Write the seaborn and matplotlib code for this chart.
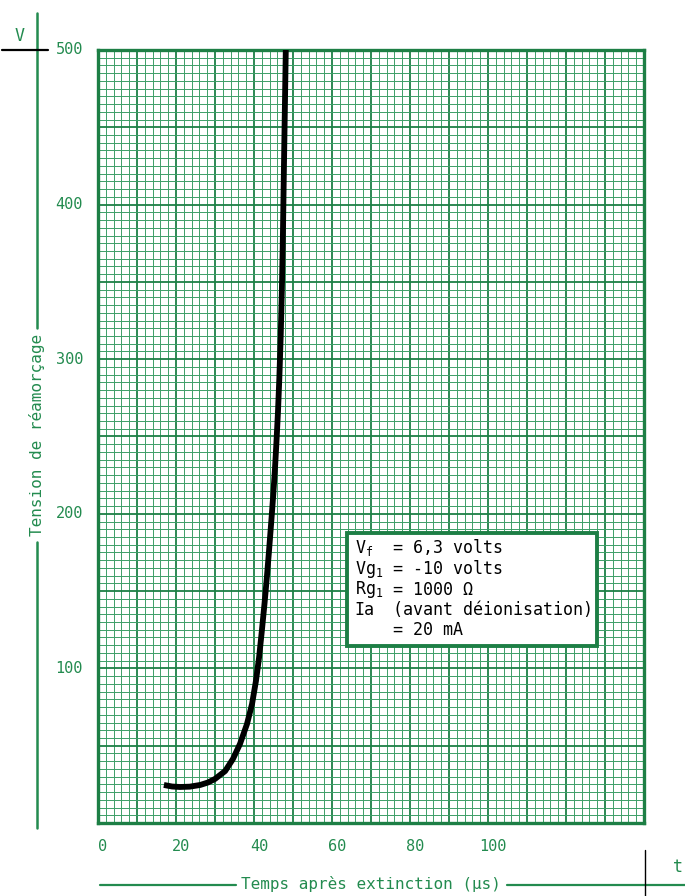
import matplotlib
matplotlib.use("Agg")
import matplotlib.pyplot as plt
import matplotlib.transforms as mtransforms
from matplotlib.lines import Line2D
from matplotlib.patches import Rectangle
from matplotlib.ticker import MultipleLocator
import pandas as pd
import seaborn as sns

GREEN = "#238b4f"
GRID_MAJOR = "#1d7f45"
GRID_MINOR = "#3d9e68"

# data (time in us, voltage in V)
time_us = [16.9, 19.0, 21.0, 23.5, 26.2, 28.2, 30.0, 32.6, 34.6, 36.4, 38.2,
           39.5, 40.5, 41.3, 42.0, 42.7, 43.3, 43.85, 44.4, 44.9, 45.35, 45.75,
           46.15, 46.5, 46.85, 47.15, 47.4, 47.65, 47.9, 48.15]
tension_v = [24.6, 23.6, 23.3, 23.5, 24.6, 26.2, 28.5, 33.6, 41.4, 51.1, 64.0,
             77.0, 91.9, 107.0, 124.0, 142.0, 159.0, 176.0, 194.0, 211.0, 228.0,
             246.0, 266.0, 288.0, 315.0, 345.0, 378.0, 420.0, 460.0, 500.0]

x_ticks = [0, 20, 40, 60, 80, 100]
y_ticks = [100, 200, 300, 400, 500]

box_labels = ["V$_f$", "Vg$_1$", "Rg$_1$", "Ia", ""]
box_values = ["= 6,3 volts", "= -10 volts", "= 1000 \u03a9",
              "(avant d\u00e9ionisation)", "= 20 mA"]

sns.set_style("white")
plt.rcParams["font.family"] = ["DejaVu Sans Mono", "DejaVu Sans"]
plt.rcParams["mathtext.fontset"] = "custom"
plt.rcParams["mathtext.rm"] = "DejaVu Sans Mono"
plt.rcParams["mathtext.it"] = "DejaVu Sans Mono"

W, H = 685, 896
fig = plt.figure(figsize=(W / 100, H / 100), dpi=100)
ax_left, ax_right, ax_top, ax_bottom = 98, 644, 50, 823
ax = fig.add_axes([ax_left / W, 1 - ax_bottom / H,
                   (ax_right - ax_left) / W, (ax_bottom - ax_top) / H])

df = pd.DataFrame({"t": time_us, "v": tension_v})
sns.lineplot(data=df, x="t", y="v", sort=False, estimator=None,
             color="black", linewidth=4.2, ax=ax, zorder=5)
ax.lines[-1].set_solid_capstyle("butt")
ax.lines[-1].set_solid_joinstyle("round")

ax.set_xlim(0, 140)
ax.set_ylim(0, 500)

# graph paper grid
ax.xaxis.set_major_locator(MultipleLocator(10))
ax.xaxis.set_minor_locator(MultipleLocator(2))
ax.yaxis.set_major_locator(MultipleLocator(50))
ax.yaxis.set_minor_locator(MultipleLocator(5))
ax.grid(which="minor", color=GRID_MINOR, linewidth=0.7)
ax.grid(which="major", color=GRID_MAJOR, linewidth=1.3)
ax.set_axisbelow(True)
ax.tick_params(which="both", length=0, labelbottom=False, labelleft=False)
ax.set_xlabel("")
ax.set_ylabel("")
for sp in ax.spines.values():
    sp.set_color(GRID_MAJOR)
    sp.set_linewidth(2.4)
    sp.set_visible(True)

# tick labels
for xv in x_ticks:
    ax.text(xv, 0, str(xv), ha="center", va="top", color=GREEN, fontsize=11,
            transform=ax.transData + mtransforms.ScaledTranslation(
                5 / 100, -16 / 100, fig.dpi_scale_trans))
for yv in y_ticks:
    ax.text(0, yv, str(yv), ha="right", va="center", color=GREEN, fontsize=11,
            transform=ax.transData + mtransforms.ScaledTranslation(
                -15 / 100, 0, fig.dpi_scale_trans))

# parameter box
ax.add_patch(Rectangle((0.456, 0.229), 0.458, 0.146, transform=ax.transAxes,
                       facecolor="white", edgecolor=GRID_MAJOR, linewidth=2.8,
                       zorder=6))
line_y = [0.356, 0.328, 0.302, 0.276, 0.250]
for lab, val, yy in zip(box_labels, box_values, line_y):
    ax.text(0.470, yy, lab, transform=ax.transAxes, fontsize=12, color="black",
            va="center", ha="left", zorder=7)
    ax.text(0.540, yy, val, transform=ax.transAxes, fontsize=12, color="black",
            va="center", ha="left", zorder=7)


# outer axis decoration in figure pixels
def fx(px):
    return px / W


def fy(py):
    return 1 - py / H


fig.add_artist(Line2D([fx(37), fx(37)], [fy(13), fy(328)], color=GREEN, lw=1.8))
fig.add_artist(Line2D([fx(37), fx(37)], [fy(542), fy(828)], color=GREEN, lw=1.8))
fig.add_artist(Line2D([fx(2), fx(48)], [fy(50), fy(50)], color="black", lw=1.6))
fig.text(fx(20), fy(36), "V", color=GREEN, fontsize=12, ha="center", va="center")
fig.text(fx(37), fy(435), "Tension de r\u00e9amor\u00e7age", rotation=90,
         color=GREEN, fontsize=11.5, ha="center", va="center")

fig.add_artist(Line2D([fx(100), fx(236)], [fy(885), fy(885)], color=GREEN, lw=1.6))
fig.add_artist(Line2D([fx(507), fx(685)], [fy(885), fy(885)], color=GREEN, lw=1.6))
fig.add_artist(Line2D([fx(645), fx(645)], [fy(850), fy(896)], color="black", lw=1.0))
fig.text(fx(371), fy(884), "Temps apr\u00e8s extinction (\u00b5s)", color=GREEN,
         fontsize=11.5, ha="center", va="center")
fig.text(fx(678), fy(867), "t", color=GREEN, fontsize=12, ha="center", va="center")

fig.savefig("out.png", dpi=100, facecolor="white")
